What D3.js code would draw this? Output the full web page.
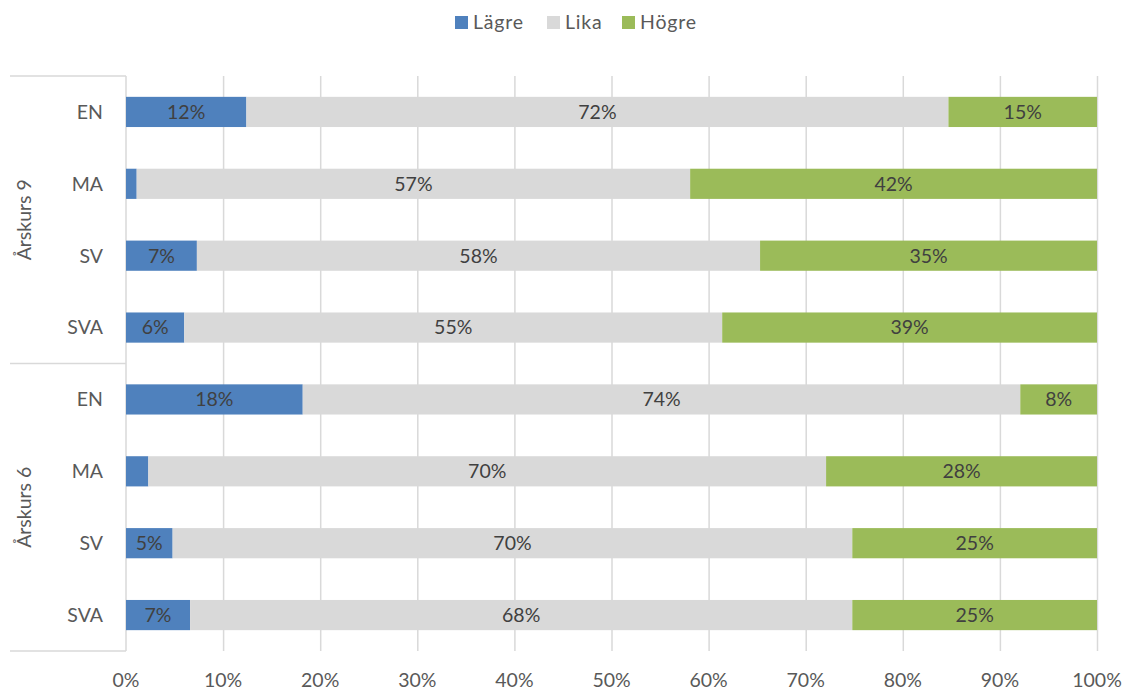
<!DOCTYPE html>
<html><head><meta charset="utf-8">
<script src="https://cdn.jsdelivr.net/npm/d3@7"></script>
<style>body{margin:0;background:#fff;} text{font-family:Lato,"Open Sans",sans-serif;}</style>
</head><body><svg id="c" width="1128" height="691"></svg>
<script>
const subjects = ["EN","MA","SV","SVA","EN","MA","SV","SVA"];
const groups = ["Årskurs 9","Årskurs 6"];
const rowGroup = [0,0,0,0,1,1,1,1];
const seriesNames = ["Lägre","Lika","Högre"];
const lagre = [12.4, 1.1, 7.3, 6.0, 18.2, 2.3, 4.8, 6.6];
const lika  = [72.3, 57.0, 58.0, 55.4, 73.9, 69.8, 70.0, 68.2];
const hogre = [15.3, 41.9, 34.7, 38.6, 7.9, 27.9, 25.2, 25.2];
const xTicks = [0,10,20,30,40,50,60,70,80,90,100];
const colors = ["#4f81bd","#d9d9d9","#9bbb59"];

const FS = 19.5;
const svg = d3.select("#c");
const L = 126, R = 1097, T = 76, B = 651;
const x = d3.scaleLinear().domain([0,100]).range([L,R]);
const y = d3.scaleBand().domain(d3.range(subjects.length)).range([T,B]).paddingInner(0.58).paddingOuter(0.29);

// gridlines
svg.append("g").selectAll("line").data(xTicks.slice(1)).join("line")
  .attr("x1",d=>x(d)+0.5).attr("x2",d=>x(d)+0.5).attr("y1",T).attr("y2",B)
  .attr("stroke","#d9d9d9").attr("stroke-width",1.5);

// category axis frame
const frame = svg.append("g").attr("stroke","#d9d9d9").attr("stroke-width",1.5);
frame.append("line").attr("x1",L).attr("x2",L).attr("y1",T).attr("y2",B);
[T, (T+B)/2, B].forEach(v=>frame.append("line").attr("x1",10).attr("x2",L).attr("y1",v).attr("y2",v));

// stacked bars
const rows = subjects.map((s,i)=>({i, vals:[lagre[i],lika[i],hogre[i]]}));
const stack = d3.stack().keys([0,1,2]).value((d,k)=>d.vals[k]);
const layers = stack(rows);
const gBars = svg.append("g");
layers.forEach((layer,k)=>{
  gBars.selectAll(null).data(layer).join("rect")
    .attr("x",d=>x(d[0])).attr("width",d=>x(d[1])-x(d[0]))
    .attr("y",d=>y(d.data.i)).attr("height",y.bandwidth())
    .attr("fill",colors[k]);
  gBars.selectAll(null).data(layer.filter(d=>d[1]-d[0]>=3)).join("text")
    .attr("x",d=>(x(d[0])+x(d[1]))/2).attr("y",d=>y(d.data.i)+y.bandwidth()/2)
    .attr("dy","0.35em").attr("text-anchor","middle")
    .attr("font-size",FS).attr("fill","#404040")
    .text(d=>Math.round(d[1]-d[0])+"%");
});

// subject labels
svg.append("g").selectAll("text").data(subjects).join("text")
  .attr("x",103).attr("y",(d,i)=>y(i)+y.bandwidth()/2).attr("dy","0.35em")
  .attr("text-anchor","end").attr("font-size",FS).attr("fill","#595959").text(d=>d);

// group labels
groups.forEach((g,gi)=>{
  const idx = rowGroup.map((r,i)=>r===gi?i:-1).filter(i=>i>=0);
  const cy = (y(idx[0]) + y(idx[idx.length-1])+y.bandwidth())/2;
  svg.append("text").attr("transform",`translate(31,${cy}) rotate(-90)`)
    .attr("text-anchor","middle").attr("font-size",FS).attr("fill","#595959").text(g);
});

// x axis labels
svg.append("g").selectAll("text").data(xTicks).join("text")
  .attr("x",d=>x(d)).attr("y",687).attr("text-anchor","middle")
  .attr("font-size",FS).attr("fill","#595959").text(d=>d+"%");

// legend
const legX = [455, 547, 622];
const leg = svg.append("g");
seriesNames.forEach((n,k)=>{
  leg.append("rect").attr("x",legX[k]).attr("y",16).attr("width",13).attr("height",13).attr("fill",colors[k]);
  leg.append("text").attr("x",legX[k]+18).attr("y",22.5).attr("dy","0.35em")
    .attr("font-size",FS).attr("fill","#595959").attr("letter-spacing",0.8).text(n);
});
</script></body></html>
